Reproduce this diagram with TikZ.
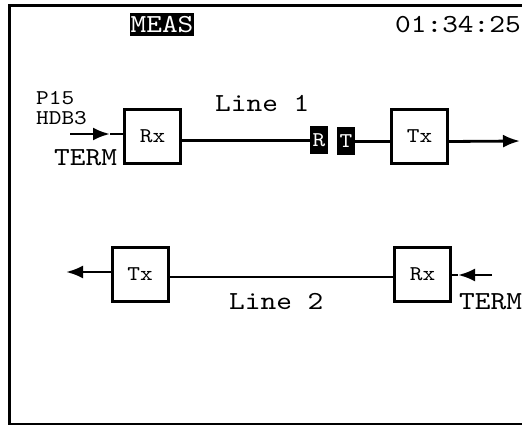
\documentclass[tikz,border=0pt]{standalone}
\usepackage{fontspec}
\newfontfamily\lcdfont[FakeStretch=1.15]{lmmono10-regular.otf}
\usetikzlibrary{arrows.meta}
\begin{document}
\begin{tikzpicture}[x=1pt, y=-1pt,
    unit/.style={draw, line width=3pt, minimum width=56pt, minimum height=54pt,
        inner sep=0pt, font={\lcdfont\fontsize{21}{21}\selectfont}},
    tag/.style={fill=black, text=white, inner sep=0pt, minimum width=18pt,
        minimum height=28pt, font={\lcdfont\fontsize{21}{21}\selectfont}},
    wire/.style={line width=2.8pt},
    sig/.style={line width=2.8pt, -{Latex[length=17pt,width=13pt]}},
    txt/.style={anchor=base west, inner sep=0pt, font={\lcdfont\fontsize{26}{26}\selectfont}},
    small/.style={txt, font={\lcdfont\fontsize{21}{21}\selectfont}}]
    \useasboundingbox (0,0) rectangle (522,425);

    % Screen frame
    \draw[line width=3pt] (522,6) -- (9.5,6) -- (9.5,424) -- (522,424);

    % Header
    \node[fill=black, text=white, inner sep=0pt, minimum width=64pt, minimum height=23pt,
        font={\lcdfont\fontsize{26}{26}\selectfont}] (meas) at (162,24.5) {MEAS};
    \node[txt] (clock) at (395,33) {01:34:25};

    % Line 1
    \node[unit] (rx1) at (152.5,136.5) {Rx};
    \node[tag] (r) at (319,140.5) {R};
    \node[tag] (t) at (346,141.5) {T};
    \node[unit] (tx1) at (419.5,136.5) {Tx};
    \node[txt] (line1) at (215,112) {Line 1};
    \node[small] (code) at (36,105) {P15};
    \node[small] (hdb) at (36,125) {HDB3};
    \node[txt] (term1) at (54,165) {TERM};

    \coordinate (in1) at (70,134);
    \coordinate (in1tip) at (110,134);
    \coordinate (out1) at (520,141);
    \draw[sig] (in1) -- (in1tip);
    \draw[wire] (in1tip) -- (rx1.west |- in1tip);
    \draw[wire] (rx1.east |- r.west) -- (r.west);
    \draw[wire] (t.east) -- (tx1.west |- t.east);
    \draw[sig] (tx1.east |- t.east) -- (out1);

    % Line 2
    \node[unit] (tx2) at (140,274.5) {Tx};
    \node[unit] (rx2) at (422.5,274.5) {Rx};
    \node[txt] (line2) at (229,309) {Line 2};
    \node[txt] (term2) at (459,309) {TERM};

    \coordinate (out2) at (66,272);
    \coordinate (in2) at (492,275);
    \coordinate (in2tip) at (458,275);
    \draw[wire] ([yshift=-2.5pt]tx2.east) -- ([yshift=-2.5pt]rx2.west);
    \draw[sig] (tx2.west |- out2) -- (out2);
    \draw[sig] (in2) -- (in2tip);
    \draw[wire] (in2tip) -- (rx2.east |- in2tip);
\end{tikzpicture}
\end{document}
